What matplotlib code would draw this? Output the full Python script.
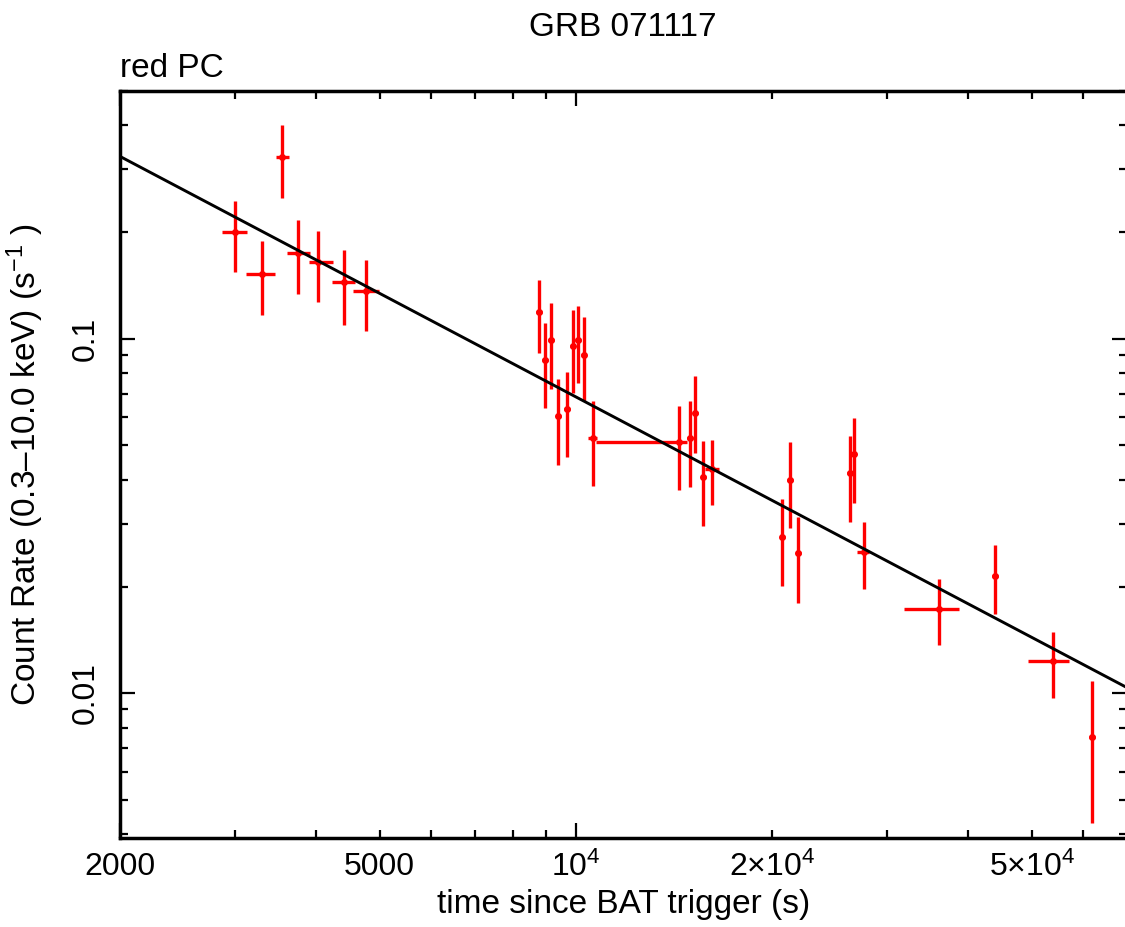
import matplotlib
matplotlib.use("Agg")
import matplotlib.pyplot as plt
import numpy as np

plt.rcParams['font.family'] = ['Liberation Sans', 'DejaVu Sans']
plt.rcParams['mathtext.fontset'] = 'custom'
plt.rcParams['mathtext.rm'] = 'Liberation Sans'
plt.rcParams['mathtext.it'] = 'Liberation Sans:italic'
plt.rcParams['mathtext.bf'] = 'Liberation Sans:bold'

# --- datos de la curva de luz ---
t = [3000, 3299, 3549, 3748, 4021, 4409, 4769, 8787, 8974, 9154, 9403, 9690,
     9884, 10071, 10276, 10609, 14413, 14952, 15251, 15686, 16200, 20737,
     21302, 21938, 26279, 26656, 27651, 36032, 43893, 53925, 61854]
t_ini = [2867, 3121, 3465, 3609, 3903, 4222, 4560, 8700, 8885, 9065, 9310, 9595,
         9790, 9970, 10175, 10430, 10722, 14800, 15100, 15530, 15784, 20530,
         21090, 21720, 26020, 26390, 26996, 31902, 43450, 49341, 61240]
t_fin = [3135, 3454, 3632, 3915, 4245, 4579, 4983, 8875, 9065, 9245, 9495, 9785,
         9980, 10170, 10380, 10790, 14825, 15100, 15405, 15845, 16584, 20945,
         21515, 22160, 26540, 26925, 28165, 38628, 44340, 56990, 62470]
tasa = [0.200, 0.1525, 0.3246, 0.1744, 0.1641, 0.1442, 0.1366, 0.1186, 0.0873,
        0.0994, 0.0604, 0.0635, 0.0954, 0.0994, 0.0901, 0.0526, 0.0510, 0.0526,
        0.0617, 0.0407, 0.0429, 0.0276, 0.0400, 0.0248, 0.0418, 0.0472, 0.0251,
        0.0173, 0.0214, 0.0123, 0.00754]
tasa_min = [0.1542, 0.1169, 0.2494, 0.1337, 0.1266, 0.1095, 0.1053, 0.0913, 0.0637,
            0.0723, 0.0440, 0.0463, 0.0703, 0.0750, 0.0665, 0.0383, 0.0373, 0.0382,
            0.0476, 0.0297, 0.0340, 0.0201, 0.0292, 0.0180, 0.0305, 0.0345, 0.0197,
            0.0137, 0.0167, 0.00971, 0.00430]
tasa_max = [0.2451, 0.1882, 0.3997, 0.2157, 0.2017, 0.1783, 0.1670, 0.1462, 0.1107,
            0.1264, 0.0771, 0.0805, 0.1207, 0.1239, 0.1148, 0.0668, 0.0647, 0.0665,
            0.0783, 0.0516, 0.0519, 0.0353, 0.0510, 0.0315, 0.0530, 0.0597, 0.0304,
            0.0210, 0.0261, 0.0149, 0.0108]

# ajuste de ley de potencias: N * (t / 1e4)^(-alfa)
norma_ajuste = 0.0685
alfa_ajuste = 0.97

# ejes
x_lim = (2000, 70000)
y_lim = (0.0039, 0.5)
x_menores = [3000, 4000, 5000, 6000, 7000, 8000, 9000, 20000, 30000, 40000, 50000, 60000]
x_menores_etiquetas = ['', '', '5000', '', '', '', '', '2×10$^4$', '', '', '5×10$^4$', '']
x_mayores = [2000, 10000]
x_mayores_etiquetas = ['2000', '10$^4$']
y_mayores = [0.01, 0.1]
y_mayores_etiquetas = ['0.01', '0.1']

t = np.array(t)
tasa = np.array(tasa)
xerr = [t - np.array(t_ini), np.array(t_fin) - t]
yerr = [tasa - np.array(tasa_min), np.array(tasa_max) - tasa]

fig = plt.figure(figsize=(11.25, 9.27), dpi=100)
ax = fig.add_axes([120 / 1125, 88.7 / 927, 1007 / 1125, 747.6 / 927])

ax.set_xscale('log')
ax.set_yscale('log')

ax.errorbar(t, tasa, xerr=xerr, yerr=yerr, fmt='o', color='#ff0000',
            ms=4, elinewidth=2.4, capsize=0, zorder=3)

t_modelo = np.logspace(np.log10(x_lim[0]), np.log10(x_lim[1]), 200)
ax.plot(t_modelo, norma_ajuste * (t_modelo / 1e4) ** (-alfa_ajuste), color='black', lw=2.1, zorder=4)

ax.set_xlim(*x_lim)
ax.set_ylim(*y_lim)

ax.set_xticks(x_mayores, x_mayores_etiquetas)
ax.set_xticks(x_menores, x_menores_etiquetas, minor=True)
ax.set_yticks(y_mayores, y_mayores_etiquetas)
ax.yaxis.set_minor_formatter(matplotlib.ticker.NullFormatter())

ax.tick_params(which='both', direction='in', top=True, right=True, width=1.6, labelsize=23)
ax.tick_params(which='major', length=11)
ax.tick_params(which='minor', length=5.5)
ax.tick_params(axis='x', which='both', pad=10)
ax.tick_params(axis='y', which='both', pad=14)
for et in ax.get_yticklabels():
    et.set_rotation(90)
    et.set_va('center')

for lado in ax.spines.values():
    lado.set_linewidth(2.5)

ax.set_xlabel('time since BAT trigger (s)', fontsize=24, labelpad=4)
ax.set_ylabel('Count Rate (0.3–10.0 keV) (s$^{-1}$ )', fontsize=24, labelpad=18)
ax.set_title('red PC', loc='left', fontsize=24, pad=10)
fig.text(623 / 1125, 1 - 36 / 927, 'GRB 071117', fontsize=24, ha='center', va='baseline')

fig.savefig('out.png', dpi=100)
